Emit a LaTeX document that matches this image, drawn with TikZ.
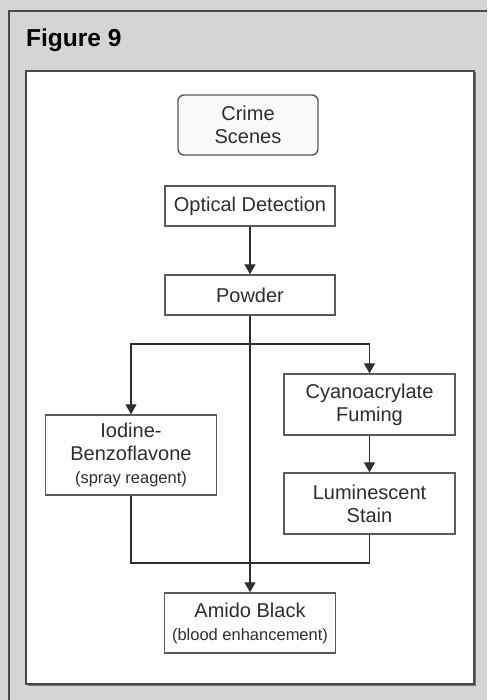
\documentclass[tikz,border=0pt]{standalone}
\usepackage{fontspec}
\setmainfont{Liberation Sans}
\usetikzlibrary{arrows.meta}
\definecolor{bgray}{HTML}{D5D5D5}
\definecolor{frame}{HTML}{4A4A4A}
\definecolor{boxline}{HTML}{5A5A5A}
\definecolor{txt}{HTML}{2E2E2E}
\tikzset{
  stepbox/.style={draw=boxline, line width=1.4pt, fill=white, text=txt, align=center,
    inner sep=0pt, font=\fontsize{20}{23}\selectfont},
  roundbox/.style={stepbox, rounded corners=6pt, fill=black!2},
  conn/.style={draw=txt, line width=1.2pt},
  arr/.style={conn, -{Triangle[width=11pt,length=10pt]}}
}
\newcommand{\smalltext}{\fontsize{16.5}{22}\selectfont}
\begin{document}
\begin{tikzpicture}[x=1pt,y=-1pt]
\useasboundingbox (0,0) rectangle (487,700);
\fill[bgray] (0,0) rectangle (487,700);
\draw[frame, line width=1.6pt] (9,700) -- (9,11) -- (487,11);
\node[anchor=base west, text=black, font=\fontsize{24.5}{26}\selectfont\bfseries, inner sep=0pt] (title) at (26,47) {Figure 9};
% panel
\fill[black!55] (27.5,72.5) rectangle (475.5,685.5);
\draw[frame, line width=1.4pt, fill=white] (26,71) rectangle (474,684);

\node[roundbox, minimum width=140pt, minimum height=60pt] (crime) at (248,125) {Crime\\Scenes};
\node[stepbox, minimum width=170pt, minimum height=40pt] (optical) at (250,206) {Optical Detection};
\node[stepbox, minimum width=170pt, minimum height=40pt] (powder) at (250,295) {Powder};
\node[stepbox, minimum width=171pt, minimum height=80pt] (iodine) at (131,455) {Iodine-\\Benzoflavone\\{\smalltext (spray reagent)}};
\node[stepbox, minimum width=171pt, minimum height=61pt] (cyano) at (369.5,404.5) {Cyanoacrylate\\Fuming};
\node[stepbox, minimum width=171pt, minimum height=61pt] (lumin) at (369.5,503.5) {Luminescent\\Stain};
\node[stepbox, minimum width=171pt, minimum height=60pt] (amido) at (250,623) {Amido Black\\{\smalltext (blood enhancement)}};

\coordinate (br) at (250,344);
\coordinate (mg) at (250,563);

\draw[arr] (optical.south) -- (powder.north);
\draw[arr] (powder.south) -- (amido.north);
\draw[arr] (br) -| (iodine.north);
\draw[arr] (br) -| (cyano.north);
\draw[arr] (cyano.south) -- (lumin.north);
\draw[conn] (iodine.south) |- (mg) -| (lumin.south);
\end{tikzpicture}
\end{document}
